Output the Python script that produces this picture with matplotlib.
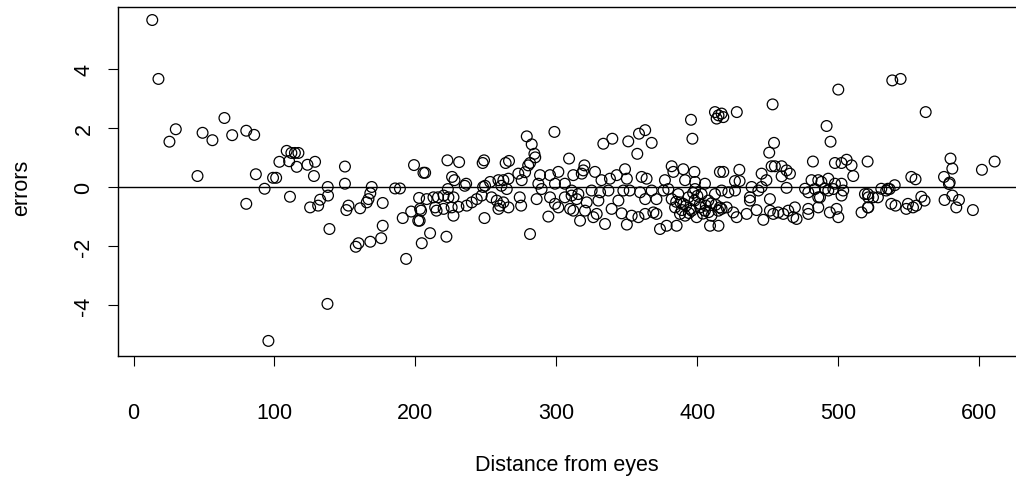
import matplotlib
matplotlib.use("Agg")
import matplotlib.pyplot as plt

# distance from eyes (x) and errors (y)
distance = [
    13.3, 17.7, 30, 25.5, 49, 56, 64.5, 70, 80, 85.6, 45.4, 86.8, 99, 93, 80, 95.7, 137.6,
    108.7, 112, 114.5, 117, 103.5, 110.4, 115.8, 123.4, 128.8, 101.2, 128, 150, 150, 137.8,
    169, 185.6, 189, 199, 205.7,
    111, 138, 132.4, 131, 125.3, 152.5, 151, 160.8, 166.7, 165.5, 168, 176.8, 139, 176.8,
    175.7, 168, 159.6, 157.7, 193.4, 191, 197, 202.6, 203, 203.3, 204.5,
    298.6, 279, 282.5, 284.4, 285, 281.3, 280, 309, 206.9, 222.7, 231, 248.7, 247.7, 264,
    266.4, 226, 227.7, 236, 248, 253, 258.9, 262.4, 266, 273, 275.4, 277.8, 288.4, 295.5,
    301.4, 287.2, 299, 306, 223,
    208, 212.8, 216, 220, 223.4, 227, 204, 202, 214, 215, 220, 225.7, 230.5, 236.4, 240,
    243.5, 247, 227, 210.4, 222, 249, 281.3, 294.3, 254, 257.7, 260, 262.4, 266, 258.9,
    274, 275, 286, 289.5, 295.5, 299, 301.4, 306, 309.7, 310.8, 235, 249.4, 261, 264.8,
    412.5, 415, 413.7, 395.5, 396.5, 363, 358.6, 367.6, 357.4, 351, 339.7, 333.3,
    319.9, 319.1, 318, 312, 327.4, 332, 338, 342.8, 348.7, 350, 360.5, 364, 377, 381.8,
    383, 390, 397.9, 391.3, 398.4, 405.4, 416,
    310.8, 314.4, 315.6, 321.5, 325, 329.8, 331, 336.9, 339.2, 344, 347.5, 352, 359.4, 363,
    367.6, 371, 376, 379.4, 312, 316.8, 320.3, 326.2, 328.6, 334.5, 346.3, 350, 353.4,
    358.2, 363, 368.8, 371, 373.5, 378.2, 385.3,
    381.8, 384.2, 387.7, 390, 393.6, 396, 399.5, 401.9, 403, 405.4, 407.8, 410, 412.5, 409,
    415, 416, 398.4, 386.5, 391.3,
    388, 392, 395, 398, 402, 406, 410, 404, 394, 389, 400, 408, 413, 397, 385,
    500, 453.4, 428, 417.2, 418.4, 491.7, 494.5, 454.4, 451, 452.7, 455, 459.8, 463.3,
    465.7, 459.8, 445.6, 449, 429.8, 418.4, 426.7, 430, 438.5, 445.6, 463.3, 482, 497.6,
    502.3, 505.9, 509.4, 510.6, 520.8, 481, 485.8, 488, 492.9, 497.6, 502.3, 490.5, 476.4,
    417.2, 422, 426.7, 437.3, 437.3, 443.3, 451.5, 478.7, 483.4, 487, 492.9, 496.5, 502.3,
    503.5, 518.9, 521.3,
    414.9, 417.2, 420.8, 425.5, 427.9, 435, 442, 446.8, 451.5, 453.9, 457.4, 461, 464.5,
    468, 470.4, 469.2, 478.7, 478.7, 485.8, 494, 498.8, 500, 516.5, 521.3, 485.8,
    538.3, 544.2, 562, 579.6, 580.9, 601.9, 610.9, 551.8, 554.8, 575, 579, 540, 535.2,
    530.5,
    521, 524.6, 528.1, 521, 534, 536.4, 537.6, 540.6, 549.4, 548.2, 553, 555.3, 558.9,
    561.2, 575.4, 580.9, 585.6, 583.7, 595.5, 578.5,
]
errors = [
    5.64, 3.65, 1.95, 1.53, 1.83, 1.58, 2.33, 1.75, 1.9, 1.76, 0.37, 0.43, 0.31, -0.06, -0.57, -5.2, -3.95,
    1.22, 1.15, 1.15, 1.15, 0.85, 0.87, 0.68, 0.75, 0.85, 0.31, 0.37, 0.69, 0.11, 0.0,
    0.0, -0.05, -0.05, 0.74, 0.48,
    -0.33, -0.29, -0.43, -0.63, -0.69, -0.63, -0.78, -0.72, -0.41, -0.52, -0.21, -0.54, -1.42, -1.31,
    -1.73, -1.85, -1.9, -2.02, -2.43, -1.05, -0.83, -0.37, -1.14, -0.74, -1.9,
    1.86, 1.71, 1.44, 1.12, 1.0, 0.81, 0.73, 0.96, 0.48, 0.9, 0.84, 0.9, 0.81, 0.81,
    0.88, 0.34, 0.23, 0.11, 0.0, 0.17, 0.23, 0.23, 0.28, 0.45, 0.23, 0.5, 0.4, 0.4,
    0.51, 0.11, 0.11, 0.11, -0.07,
    -0.41, -0.35, -0.35, -0.29, -0.35, -0.35, -0.8, -1.14, -0.69, -0.8, -0.74, -0.69, -0.67, -0.63, -0.52,
    -0.41, -0.29, -0.97, -1.56, -1.68, -1.05, -1.59, -1.0, -0.35, -0.46, -0.63, -0.52, -0.69, -0.74,
    -0.35, -0.63, -0.41, -0.07, -0.35, -0.57, -0.69, -0.35, -0.74, -0.12, 0.04, 0.04, 0.04, -0.07,
    2.53, 2.42, 2.31, 2.27, 1.63, 1.92, 1.8, 1.49, 1.12, 1.54, 1.63, 1.46,
    0.73, 0.56, 0.45, 0.4, 0.51, 0.23, 0.28, 0.4, 0.6, 0.28, 0.34, 0.28, 0.23, 0.7,
    0.51, 0.6, 0.51, 0.23, 0.17, 0.11, 0.51,
    -0.29, -0.41, -0.24, -0.52, -0.12, -0.46, -0.18, -0.12, -0.74, -0.46, -0.12, -0.12, -0.18, -0.41,
    -0.12, -0.41, -0.12, -0.07, -0.8, -1.14, -0.8, -1.02, -0.91, -1.25, -0.89, -1.27, -0.97,
    -1.02, -0.91, -0.86, -0.91, -1.42, -1.31, -1.31,
    -0.41, -0.69, -0.91, -0.57, -0.35, -0.8, -1.02, -0.57, -0.24, -0.8, -0.46, -0.97, -0.24, -1.31,
    -1.31, -0.69, -0.07, -0.24, -0.97,
    -0.52, -0.63, -0.74, -0.46, -0.69, -0.63, -0.55, -0.9, -0.88, -0.78, -0.3, -0.85, -0.6, -0.2, -0.5,
    3.29, 2.79, 2.53, 2.48, 2.36, 2.06, 1.53, 1.49, 1.16, 0.7, 0.7, 0.7, 0.56,
    0.45, 0.36, 0.45, 0.23, 0.58, 0.51, 0.2, 0.2, 0.0, 0.0, -0.03, 0.86, 0.81,
    0.81, 0.92, 0.73, 0.37, 0.86, 0.23, 0.23, 0.17, 0.28, 0.11, 0.11, -0.06, -0.06,
    -0.12, -0.18, -0.12, -0.35, -0.46, -0.12, -0.41, -0.18, -0.07, -0.35, -0.12, -0.07, -0.29,
    -0.12, -0.24, -0.35,
    -0.8, -0.74, -0.69, -0.86, -1.02, -0.91, -0.78, -1.11, -0.8, -0.91, -0.86, -0.91, -0.8,
    -1.02, -1.08, -0.69, -0.74, -0.91, -0.69, -0.86, -0.74, -1.02, -0.86, -0.69, -0.35,
    3.6, 3.65, 2.53, 0.96, 0.62, 0.58, 0.86, 0.34, 0.26, 0.34, 0.15, 0.06, -0.06,
    -0.06,
    -0.24, -0.35, -0.35, -0.69, -0.12, -0.07, -0.57, -0.63, -0.57, -0.74, -0.69, -0.63, -0.33,
    -0.46, -0.44, -0.29, -0.44, -0.69, -0.78, 0.1,
]
x_ticks = [0, 100, 200, 300, 400, 500, 600]
y_ticks = [-4, -2, 0, 2, 4]

plt.rcParams['font.family'] = ['Liberation Sans', 'DejaVu Sans']

W, H = 1016, 481
fig = plt.figure(figsize=(W / 100, H / 100), dpi=100)
ax = fig.add_axes([118 / W, (H - 357) / H, 912 / W, 349 / H])

ax.scatter(distance, errors, s=60, facecolors='none', edgecolors='black', linewidths=0.9, zorder=3)
ax.axhline(0, color='black', linewidth=1.0, zorder=2)

ax.set_xlim(-11, 636)
ax.set_ylim(-5.71, 6.08)
ax.set_xticks(x_ticks)
ax.set_yticks(y_ticks)
ax.set_yticklabels([str(v) for v in y_ticks], rotation=90, va='center')
ax.tick_params(axis='both', direction='out', length=7, width=0.8, labelsize=15.5,
               colors='black')
ax.tick_params(axis='x', pad=26)
ax.tick_params(axis='y', pad=10)
for sp in ax.spines.values():
    sp.set_linewidth(1.0)
    sp.set_color('black')

fig.text(567 / W, 1 - 466 / H, 'Distance from eyes', ha='center', va='center', fontsize=15.5)
fig.text(22 / W, 1 - 188 / H, 'errors', ha='center', va='center', rotation=90, fontsize=15.5)

fig.savefig('out.png', dpi=100)
